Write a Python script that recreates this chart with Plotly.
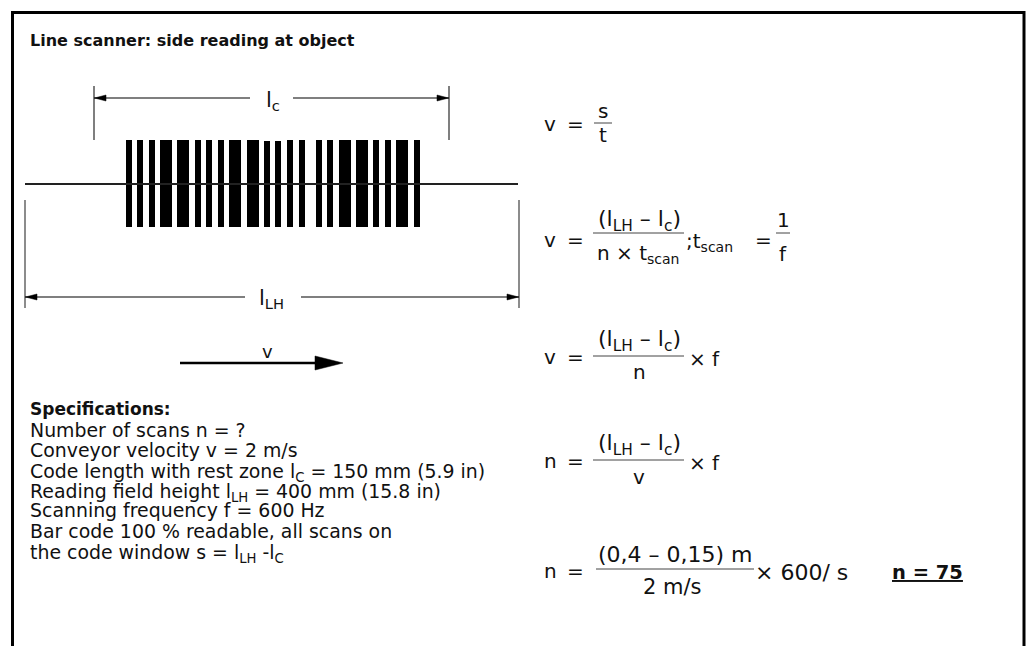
import plotly.graph_objects as go

# ---------------- data ----------------
title_text = "Line scanner: side reading at object"
spec_title = "Specifications:"
spec_lines = [
    "Number of scans n = ?",
    "Conveyor velocity v = 2 m/s",
    "Code length with rest zone l<sub>C</sub> = 150 mm (5.9 in)",
    "Reading field height l<sub>LH</sub> = 400 mm (15.8 in)",
    "Scanning frequency f = 600 Hz",
    "Bar code 100 % readable, all scans on",
    "the code window s = l<sub>LH</sub> -l<sub>C</sub>",
]
# barcode: bar left edges and module widths (px in the drawing)
bar_lefts = [126, 137, 149, 160, 177, 195, 206, 218, 229, 247, 264,
             275, 287, 299, 316, 327, 339, 356, 373, 385, 396, 414]
bar_widths = [6, 6, 6, 12, 12, 6, 6, 6, 12, 12, 6,
              6, 6, 6, 6, 6, 12, 12, 6, 6, 12, 6]
bar_tops = [140] * 10 + [141, 141] + [140] * 10
bar_bottom = 227

label_lc = "l<sub>c</sub>"
label_lh = "l<sub>LH</sub>"
label_v = "v"

FONT = "DejaVu Sans"
INK = "#111111"

fig = go.Figure()

centers = [l + w / 2 for l, w in zip(bar_lefts, bar_widths)]
heights = [bar_bottom - t for t in bar_tops]
fig.add_trace(go.Bar(x=centers, y=heights, base=bar_tops, width=bar_widths,
                     marker=dict(color="black", line=dict(width=0)),
                     hoverinfo="skip", showlegend=False))

shapes = []
def line(x0, y0, x1, y1, color="black", w=1.2):
    shapes.append(dict(type="line", x0=x0, y0=y0, x1=x1, y1=y1,
                       xref="x", yref="y", line=dict(color=color, width=w)))

def tri(path):
    shapes.append(dict(type="path", path=path, xref="x", yref="y",
                       fillcolor="black", line=dict(color="black", width=0.5)))

# frame (open at bottom)
shapes.append(dict(type="path", path="M 12.5 660 L 12.5 12.5 L 1024 12.5 L 1024 660",
                   xref="x", yref="y", line=dict(color="black", width=3)))

# scan line through barcode
line(25, 184, 518, 184, color="#222222", w=2)

# lc dimension
line(94, 86, 94, 140, color="#555555", w=1.5)
line(449, 86, 449, 140, color="#555555", w=1.5)
line(94, 98, 250, 98)
line(293, 98, 449, 98)
tri("M 94.5 98 L 106 95 L 106 101 Z")
tri("M 448.5 98 L 437 95 L 437 101 Z")

# LH dimension
line(25, 200, 25, 308, color="#666666", w=1.5)
line(519, 200, 519, 308, color="#666666", w=1.5)
line(25, 297, 245, 297)
line(301, 297, 519, 297)
tri("M 25.5 297 L 37 294 L 37 300 Z")
tri("M 518.5 297 L 507 294 L 507 300 Z")

# velocity arrow
line(180, 363, 320, 363, w=2.5)
tri("M 343 363 L 315 356 L 315 370 Z")

# fraction lines
FR = "#444444"
line(594, 123, 612, 123, color=FR, w=1)
line(593, 233, 684, 233, color=FR, w=1)
line(776, 233, 790, 233, color=FR, w=1)
line(593, 356, 684, 356, color=FR, w=1)
line(593, 460, 684, 460, color=FR, w=1)
line(596, 569, 754, 569, color=FR, w=1)

ann = []
def txt(x, y, s, size=20, xa="center", ya="middle"):
    ann.append(dict(x=x, y=y, xref="x", yref="y", text=s, showarrow=False,
                    xanchor=xa, yanchor=ya,
                    font=dict(family=FONT, size=size, color=INK)))

# title & labels
txt(28, 40, f"<b>{title_text}</b>", size=16, xa="left")
txt(273, 101, label_lc, size=21)
txt(271, 299, label_lh, size=21)
txt(267, 351, label_v, size=18)

# specifications
txt(28, 409, f"<b>{spec_title}</b>", size=17, xa="left")
for i, s in enumerate(spec_lines):
    yy = 429.5 + i * 20.2
    if "<sub>" in s:
        yy += 2.5
    txt(28, yy, s, size=18.9, xa="left")

num = "(l<sub>LH</sub> – l<sub>c</sub>)"
# F1
txt(550, 124, "v")
txt(575, 124, "=")
txt(603, 111, "s")
txt(603, 135, "t")
# F2
txt(550, 240, "v")
txt(575, 240, "=")
txt(639, 220, num, size=22)
txt(638, 254, "n × t<sub>scan</sub>", size=20)
txt(684, 242, ";t<sub>scan</sub>", size=20, xa="left")
txt(763, 240, "=")
txt(783, 220, "1")
txt(783, 254, "f")
# F3
txt(550, 357, "v")
txt(575, 357, "=")
txt(639, 340, num, size=22)
txt(639, 372, "n")
txt(687, 359, "× f", xa="left")
# F4
txt(550, 461, "n")
txt(575, 461, "=")
txt(639, 444, num, size=22)
txt(639, 477, "v")
txt(687, 463, "× f", xa="left")
# F5
txt(550, 571, "n")
txt(575, 571, "=")
txt(675, 554, "(0,4 – 0,15) m", size=22)
txt(672, 587, "2 m/s", size=21)
txt(753, 572, "× 600/ s", size=22, xa="left")
txt(890, 572, "<u><b>n = 75</b></u>", size=19.5, xa="left")

fig.update_layout(
    width=1026, height=646,
    margin=dict(l=0, r=0, t=0, b=0),
    paper_bgcolor="white", plot_bgcolor="white",
    xaxis=dict(range=[0, 1026], visible=False, fixedrange=True),
    yaxis=dict(range=[646, 0], visible=False, fixedrange=True),
    shapes=shapes, annotations=ann, bargap=0,
    showlegend=False,
)

fig.write_html("out.html",
               post_script="document.body.style.margin='0px';document.body.style.overflow='hidden';",
               config={"displayModeBar": False})
